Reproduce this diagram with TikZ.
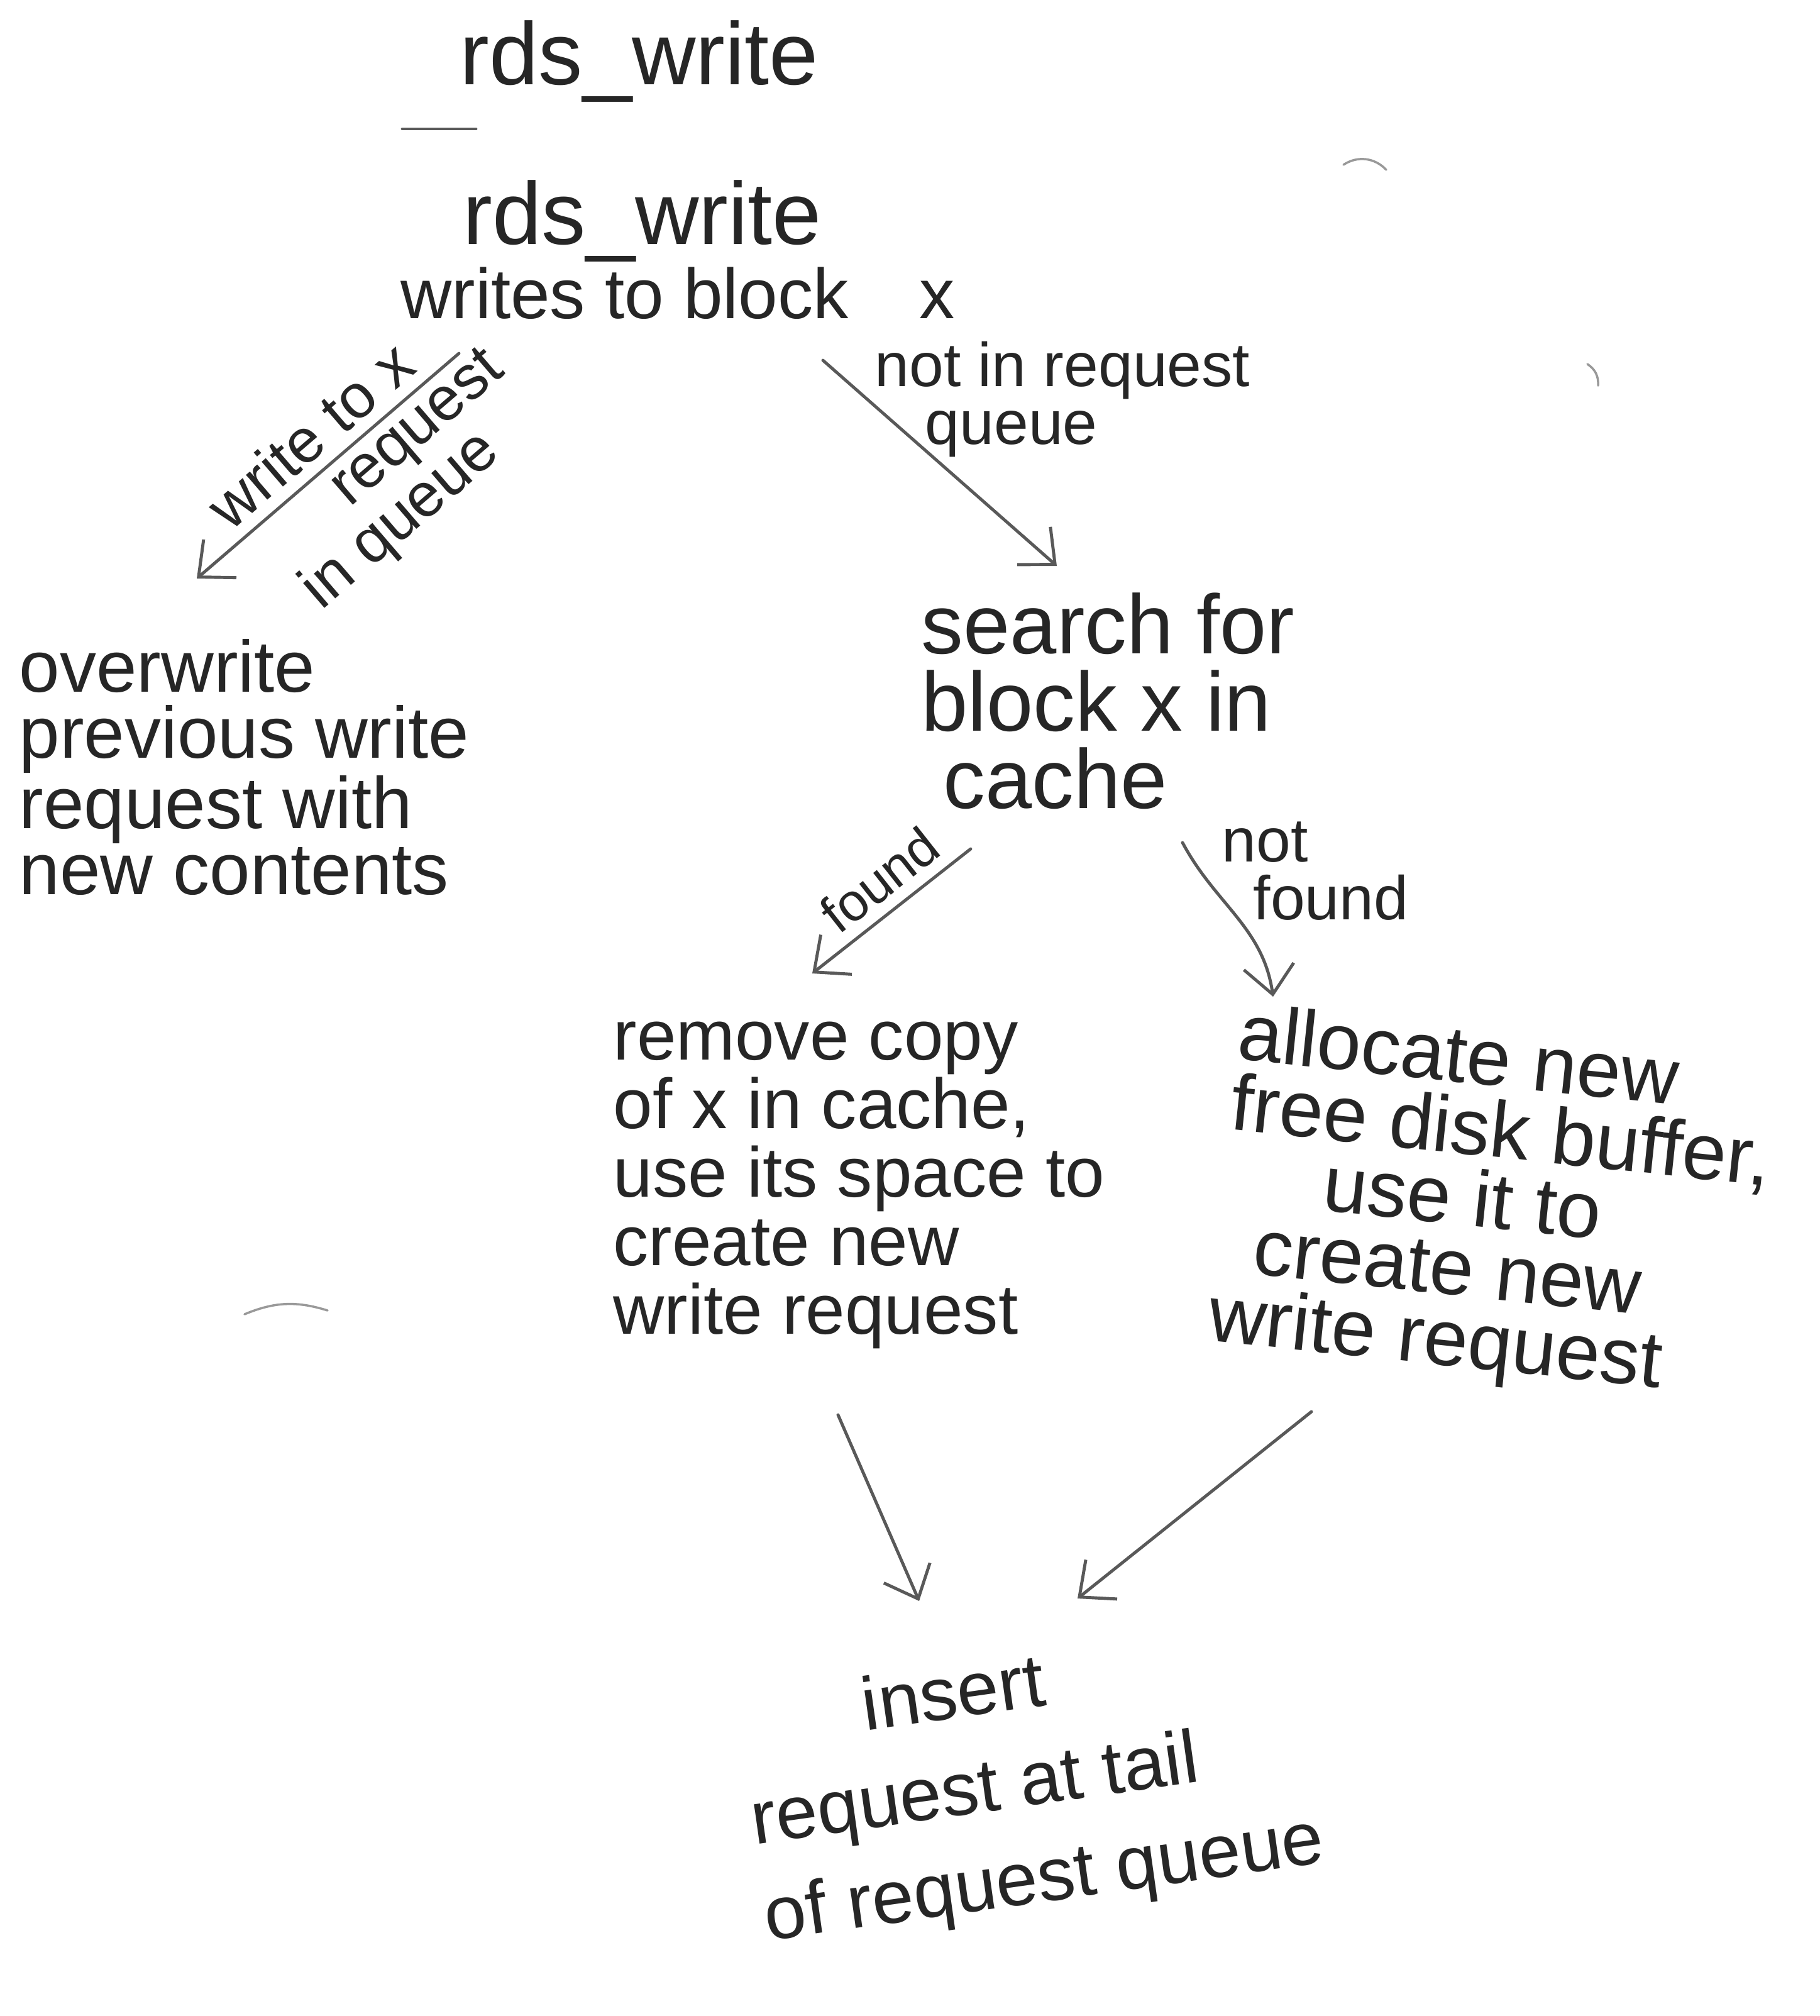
\documentclass[tikz,border=0pt]{standalone}
\usepackage{fontspec}
\setmainfont{Liberation Sans}
\usetikzlibrary{arrows.meta}
\begin{document}
\begin{tikzpicture}[x=1cm,y=1cm,>={Straight Barb[length=4.5mm,width=8mm]},
        ink/.style={text=black!85,inner sep=0pt},
        pen/.style={draw=black!65,line width=1.4pt,line cap=round},
        arr/.style={pen,->},
        faint/.style={draw=black!40,line width=1pt,line cap=round},
        lbl/.style={ink,inner sep=1pt,font=\fontsize{28}{26}\selectfont},
        body/.style={ink,font=\fontsize{32}{31}\selectfont},
        big/.style={ink,font=\fontsize{40}{44}\selectfont}]
                \useasboundingbox (0,0) rectangle (28.94,-32.06);
                \node[big] (title) at (10.17,-0.98) {rds\_write};
                \draw[pen] (6.40,-2.05)--(7.57,-2.05);
                \draw[faint] (21.37,-2.62) to[bend left=40] (22.05,-2.70);
                \draw[faint] (25.25,-5.79) to[bend left=30] (25.42,-6.13);
                \draw[faint] (3.89,-20.90) to[bend left=20] (5.21,-20.84);
                %===========================================
                \node[big] (fn) at (10.22,-3.52) {rds\_write};
                \node[body] (fndesc) at (10.78,-4.66) {writes to block\quad x};
                \node[body,font=\fontsize{33}{30}\selectfont,align=left,anchor=west] (over) at (0.30,-12.20)
                    {overwrite\\previous write\\request with\\new contents};
                \node[body,font=\fontsize{38}{35}\selectfont,align=left,anchor=west] (search) at (14.65,-11.15)
                    {search for\\block x in\\\hspace{.35cm}cache};
                \node[body,align=left,anchor=west] (remove) at (9.75,-18.85)
                    {remove copy\\of x in cache,\\use its space to\\create new\\write request};
                \node[body,font=\fontsize{36}{32}\selectfont,align=left,rotate=-6] (alloc) at (23.75,-19.20)
                    {allocate new\\free disk buffer,\\\hspace{1.6cm}use it to\\\hspace{.6cm}create new\\write request};
                \node[body,font=\fontsize{34}{44}\selectfont,align=left,rotate=8] (insert) at (16.40,-28.40)
                    {\hspace{2cm}insert\\request at tail\\of request queue};
                %===========================================
                \coordinate (wq) at (7.30,-5.62);   \coordinate (wq') at (3.13,-9.20);
                \coordinate (nq) at (13.09,-5.73);  \coordinate (nq') at (16.81,-9.00);
                \coordinate (fd) at (15.44,-13.50); \coordinate (fd') at (12.92,-15.48);
                \coordinate (nf) at (18.81,-13.40); \coordinate (nf') at (20.25,-15.85);
                \coordinate (rm) at (13.33,-22.50); \coordinate (rm') at (14.62,-25.46);
                \coordinate (al) at (20.86,-22.45); \coordinate (al') at (17.14,-25.42);
                \draw[arr] (wq)--(wq')
                    node[lbl,sloped,pos=.48,above=4pt] (wqa) {write to x}
                    node[lbl,sloped,pos=.36,below=1pt,align=left] (wqb) {\hspace{1.4cm}request\\in queue};
                \draw[arr] (nq)--(nq');
                \node[lbl,align=left] (nqa) at (16.90,-6.35) {not in request\\\hspace{.8cm}queue};
                \draw[arr] (fd)--(fd') node[lbl,font=\fontsize{24}{26}\selectfont,sloped,pos=.45,above=4pt] (fda) {found};
                \draw[arr] (nf) to[out=-62,in=98] (nf');
                \node[lbl,align=left] (nfa) at (20.92,-13.85) {not\\\hspace{.5cm}found};
                \foreach \a in {rm,al}
                    \draw[arr] (\a)--(\a');
            \end{tikzpicture}
\end{document}
